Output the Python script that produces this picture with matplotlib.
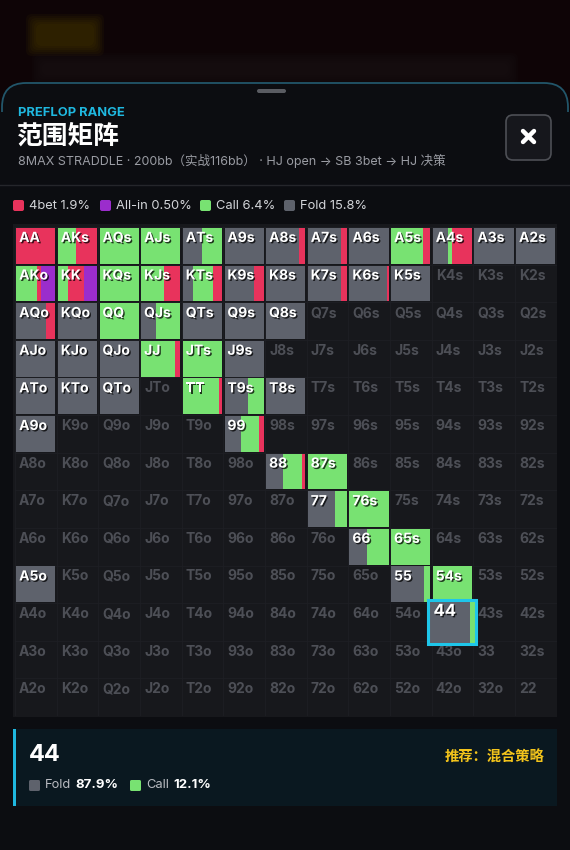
import matplotlib
matplotlib.use("Agg")
import matplotlib.pyplot as plt
import matplotlib.patheffects as pe
from matplotlib.patches import FancyBboxPatch, Rectangle

# ---- data -------------------------------------------------------------
RANKS = list("AKQJT98765432")

HANDS = ["AA", "AKs", "AQs", "AJs", "ATs", "A9s", "A8s", "A7s", "A6s", "A5s", "A4s", "A3s", "A2s",
         "AKo", "KK", "KQs", "KJs", "KTs", "K9s", "K8s", "K7s", "K6s", "K5s",
         "AQo", "KQo", "QQ", "QJs", "QTs", "Q9s", "Q8s",
         "AJo", "KJo", "QJo", "JJ", "JTs", "J9s",
         "ATo", "KTo", "QTo", "TT", "T9s", "T8s",
         "A9o", "99", "88", "87s", "77", "76s", "66", "65s",
         "A5o", "55", "54s", "44"]
FOLD = [0, 0, 0, 0, 48, 100, 85, 86, 100, 0, 40, 100, 100,
        0, 0, 0, 0, 25, 75, 100, 86, 97, 100,
        75, 100, 0, 38, 100, 100, 100,
        100, 100, 100, 0, 0, 100,
        100, 100, 100, 0, 60, 100,
        100, 42, 42, 0, 69, 0, 46, 0,
        100, 84, 0, 87.9]
CALL = [0, 45, 100, 100, 52, 0, 0, 0, 0, 81, 10, 0, 0,
        54, 27, 100, 59, 52, 0, 0, 0, 0, 0,
        0, 0, 100, 62, 0, 0, 0,
        0, 0, 0, 86, 100, 0,
        0, 0, 0, 92, 40, 0,
        0, 46, 50, 100, 31, 100, 54, 100,
        0, 16, 100, 12.1]
BET4 = [100, 55, 0, 0, 0, 0, 15, 14, 0, 19, 50, 0, 0,
        8, 39, 0, 41, 23, 25, 0, 14, 3, 0,
        25, 0, 0, 0, 0, 0, 0,
        0, 0, 0, 14, 0, 0,
        0, 0, 0, 8, 0, 0,
        0, 12, 8, 0, 0, 0, 0, 0,
        0, 0, 0, 0]
ALLIN = [0] * len(HANDS)
ALLIN[HANDS.index("AKo")] = 38
ALLIN[HANDS.index("KK")] = 34

LEGEND_NAMES = ["4bet", "All-in", "Call", "Fold"]
LEGEND_PCT = ["1.9%", "0.50%", "6.4%", "15.8%"]
SELECTED = "44"
SEL_NAMES = ["Fold", "Call"]
SEL_PCT = ["87.9%", "12.1%"]

# ---- style ------------------------------------------------------------
C_FOLD = "#5e626c"
C_CALL = "#78e272"
C_BET4 = "#e8335c"
C_ALLIN = "#9b2dcc"
C_CYAN = "#1fb8e0"
PANEL = "#0c0d11"
FONT = ["Inter", "Noto Sans CJK SC", "DejaVu Sans"]
plt.rcParams["font.family"] = FONT

W, H = 570, 850
fig = plt.figure(figsize=(W / 100, H / 100), dpi=100)
fig.patch.set_facecolor("#0e0406")

bg = fig.add_axes([0, 0, 1, 1])
bg.set_xlim(0, W)
bg.set_ylim(H, 0)
bg.axis("off")

# blurred page behind the sheet
for k in range(6):
    bg.add_patch(FancyBboxPatch((36 - k * 2, 24 - k * 2), 58 + k * 4, 22 + k * 4,
                                boxstyle="round,pad=0,rounding_size=6",
                                fc="#6b5a00", ec="none", alpha=0.07))
    bg.add_patch(FancyBboxPatch((42 - k * 2, 63 - k * 2), 466 + k * 4, 12 + k * 4,
                                boxstyle="round,pad=0,rounding_size=6",
                                fc="#2a2a2c", ec="none", alpha=0.06))

# sheet (border only shows along the rounded top)
bg.add_patch(FancyBboxPatch((2, 83), W - 4, 820, boxstyle="round,pad=0,rounding_size=24",
                            fc=PANEL, ec="#22566a", lw=1.3))
bg.add_patch(Rectangle((0, 112), W, H, fc=PANEL, ec="none"))
bg.add_patch(FancyBboxPatch((257, 89), 29, 4, boxstyle="round,pad=0,rounding_size=2",
                            fc="#5a5c62", ec="none"))

bg.text(18, 113, "PREFLOP RANGE", color=C_CYAN, fontsize=9.3, fontweight="bold", va="center")
bg.text(17, 136, "范围矩阵", color="white", fontsize=18.5, fontweight="bold", va="center",
        family=["Noto Sans CJK SC", "DejaVu Sans"])
bg.text(18, 161, "8MAX STRADDLE · 200bb（实战116bb） · HJ open → SB 3bet → HJ 决策",
        color="#9a9ca3", fontsize=9.0, va="center")

# close button
bg.add_patch(FancyBboxPatch((506, 115), 45, 45, boxstyle="round,pad=0,rounding_size=7",
                            fc="#16171c", ec="#4d4f55", lw=1.2))
bg.plot([523, 534], [131, 142], color="white", lw=3.2, solid_capstyle="round")
bg.plot([523, 534], [142, 131], color="white", lw=3.2, solid_capstyle="round")

bg.plot([0, W], [185, 185], color="#25262b", lw=1)

# legend
leg_colors = [C_BET4, C_ALLIN, C_CALL, C_FOLD]
leg_x = [13, 100, 200, 284]
for x, col, name, pct in zip(leg_x, leg_colors, LEGEND_NAMES, LEGEND_PCT):
    bg.add_patch(FancyBboxPatch((x, 200), 11, 11, boxstyle="round,pad=0,rounding_size=2",
                                fc=col, ec="none"))
    bg.text(x + 16, 206, f"{name} {pct}", color="#d2d4d8", fontsize=9.3, va="center")

# grid background
bg.add_patch(Rectangle((13, 224), 544, 493, fc="#17181c", ec="none"))

# ---- range grid -------------------------------------------------------
ax = fig.add_axes([15 / W, 1 - 716 / H, 541.5 / W, 489 / H])
ax.set_xlim(0, 13)
ax.set_ylim(13, 0)
ax.axis("off")
ax.patch.set_alpha(0)

for i in range(14):
    ax.plot([i, i], [0, 13], color="#1e1f24", lw=0.6, zorder=0)
    ax.plot([0, 13], [i, i], color="#1e1f24", lw=0.6, zorder=0)


def hand_name(r, c):
    if r == c:
        return RANKS[r] * 2
    if r < c:
        return RANKS[r] + RANKS[c] + "s"
    return RANKS[c] + RANKS[r] + "o"


shadow = [pe.SimplePatchShadow(offset=(1, -1), shadow_rgbFace="black", alpha=0.75), pe.Normal()]
GX, GY = 0.03, 0.025


def draw_cell(r, c, vals, scale=1.0, z=2):
    cx, cy = c + 0.5, r + 0.5
    w = (1 - 2 * GX) * scale
    h = (1 - 2 * GY) * scale
    left = cx - w / 2
    for v, col in zip(vals, [C_FOLD, C_CALL, C_BET4, C_ALLIN]):
        if v > 0:
            ax.barh(cy, w * v / 100, left=left, height=h, color=col, lw=0, zorder=z, clip_on=False)
            left += w * v / 100
    return cx - w / 2, cy - h / 2, w, h


for r in range(13):
    for c in range(13):
        name = hand_name(r, c)
        if name in HANDS and name != SELECTED:
            i = HANDS.index(name)
            draw_cell(r, c, [FOLD[i], CALL[i], BET4[i], ALLIN[i]])
            ax.text(c + 0.1, r + 0.29, name, color="white", fontsize=10, fontweight="bold",
                    va="center", zorder=4, path_effects=shadow)
        elif name != SELECTED:
            ax.text(c + 0.1, r + 0.29, name, color="#4d4f56", fontsize=10, fontweight="bold",
                    va="center", zorder=1)

# highlighted hand, drawn enlarged on top
si = HANDS.index(SELECTED)
sr = sc = RANKS.index(SELECTED[0])
x0, y0, sw, sh = draw_cell(sr, sc, [FOLD[si], CALL[si], BET4[si], ALLIN[si]], scale=1.22, z=6)
ax.add_patch(Rectangle((x0, y0), sw, sh, fc="none", ec="#1ec6ea", lw=2.2, zorder=7, clip_on=False))
ax.text(x0 + 0.12, y0 + 0.3, SELECTED, color="white", fontsize=12, fontweight="bold",
        va="center", zorder=8, path_effects=shadow)

# ---- detail box -------------------------------------------------------
bg.add_patch(Rectangle((13, 729), 544, 77, fc="#0a1820", ec="none"))
bg.add_patch(Rectangle((13, 729), 3, 77, fc=C_CYAN, ec="none"))
bg.text(29, 755, SELECTED, color="white", fontsize=17, fontweight="bold", va="center")
bg.text(544, 758, "推荐：混合策略", color="#f3c41b", fontsize=10.3, fontweight="bold",
        va="center", ha="right", family=["Noto Sans CJK SC", "DejaVu Sans"])
for x, col, name, pct in zip([29, 130], [C_FOLD, C_CALL], SEL_NAMES, SEL_PCT):
    bg.add_patch(FancyBboxPatch((x, 780), 11, 11, boxstyle="round,pad=0,rounding_size=1.5",
                                fc=col, ec="none"))
    bg.text(x + 16, 785.5, name, color="#b8bbc1", fontsize=9.3, va="center")
    bg.text(x + 46 if name == "Fold" else x + 43, 785.5, pct, color="white", fontsize=9.5,
            fontweight="bold", va="center")

fig.savefig("out.png", dpi=100, facecolor=fig.get_facecolor())
